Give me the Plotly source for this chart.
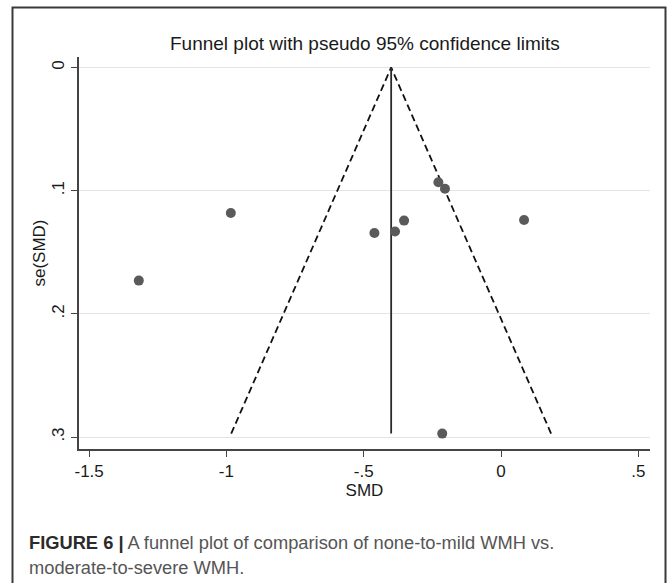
import plotly.graph_objects as go

# ---- data ----
smd = [-0.228, -0.204, -0.984, -0.353, -0.461, -0.386, -1.319, 0.084, -0.214]
se_smd = [0.0932, 0.0985, 0.1181, 0.1243, 0.1344, 0.1331, 0.1730, 0.1238, 0.2972]
pooled_smd = -0.40
z95 = 1.96
x_ticks = [-1.5, -1.0, -0.5, 0.0, 0.5]
x_tick_labels = ["-1.5", "-1", "-.5", "0", ".5"]
y_ticks = [0.0, 0.1, 0.2, 0.3]
y_tick_labels = ["0", ".1", ".2", ".3"]

se_max = max(se_smd)
funnel_x = [pooled_smd - z95 * se_max, pooled_smd, pooled_smd + z95 * se_max]
funnel_y = [se_max, 0.0, se_max]

FONT = "Liberation Sans, Arial, Helvetica, sans-serif"

fig = go.Figure()
fig.add_trace(go.Scatter(x=funnel_x, y=funnel_y, mode="lines",
                         line=dict(color="#111111", width=1.8, dash="7px,4px"),
                         hoverinfo="skip", showlegend=False))
fig.add_trace(go.Scatter(x=[pooled_smd, pooled_smd], y=[0.0, se_max], mode="lines",
                         line=dict(color="#2a2a2a", width=1.8),
                         hoverinfo="skip", showlegend=False))
fig.add_trace(go.Scatter(x=smd, y=se_smd, mode="markers",
                         marker=dict(color="#5a5a5a", size=10, line=dict(width=0)),
                         showlegend=False))

W, H = 670, 583
L, R, T, B = 79, 20, 57, 134
pw, ph = W - L - R, H - T - B

def px_x(p):
    return (p - L) / pw

def px_y(p):
    return (H - B - p) / ph

fig.update_layout(
    width=W, height=H,
    margin=dict(l=L, r=R, t=T, b=B, pad=0),
    paper_bgcolor="white", plot_bgcolor="white",
    font=dict(family=FONT, color="#1a1a1a"),
    xaxis=dict(range=[-1.5368, 0.5426], tickvals=x_ticks, ticktext=x_tick_labels,
               showgrid=False, zeroline=False, showline=True, linecolor="#444444",
               linewidth=1.5, ticks="outside", ticklen=6, tickwidth=1.3,
               tickcolor="#444444", tickfont=dict(size=17, color="#1a1a1a"),
               title=dict(text="SMD", font=dict(size=17, color="#1a1a1a"), standoff=0)),
    yaxis=dict(range=[0.3097, -0.0085], tickvals=y_ticks, ticktext=y_tick_labels,
               showgrid=True, gridcolor="#e4e4e4", gridwidth=1, zeroline=False,
               showline=True, linecolor="#444444", linewidth=1.5, ticks="outside",
               ticklen=6, tickwidth=1.3, tickcolor="#444444", tickangle=-90,
               tickfont=dict(size=17, color="#1a1a1a"),
               title=dict(text="se(SMD)", font=dict(size=17, color="#1a1a1a"), standoff=0)),
    shapes=[dict(type="rect", xref="paper", yref="paper",
                 x0=px_x(12.5), x1=px_x(665.5), y0=px_y(600), y1=px_y(7.5),
                 line=dict(color="#3a3a3a", width=2), fillcolor="rgba(0,0,0,0)",
                 layer="below")],
    annotations=[
        dict(text="Funnel plot with pseudo 95% confidence limits", xref="paper", yref="paper",
             x=0.5, y=px_y(43.5), xanchor="center", yanchor="middle", showarrow=False,
             font=dict(size=19, color="#1a1a1a", family=FONT)),
        dict(text="<b>FIGURE 6 |</b><span style='color:#555555'> A funnel plot of comparison of none-to-mild WMH vs.</span>",
             xref="paper", yref="paper", x=px_x(26.5), y=px_y(542.3), xanchor="left",
             yanchor="middle", showarrow=False, font=dict(size=18.3, color="#2b2b2b", family=FONT)),
        dict(text="moderate-to-severe WMH.", xref="paper", yref="paper", x=px_x(26.5),
             y=px_y(567.3), xanchor="left", yanchor="middle", showarrow=False,
             font=dict(size=18.3, color="#555555", family=FONT)),
    ],
)

fig.write_html("out.html")
